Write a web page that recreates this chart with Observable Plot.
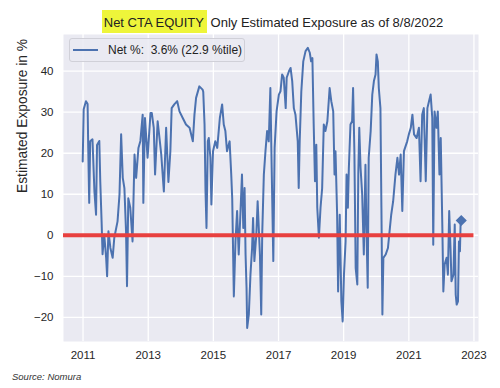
<!DOCTYPE html>
<html>
<head>
<meta charset="utf-8">
<script src="https://cdn.jsdelivr.net/npm/d3@7"></script>
<script src="https://cdn.jsdelivr.net/npm/@observablehq/plot@0.6"></script>
<style>
  html, body { margin: 0; padding: 0; background: #fff; }
  #wrap { position: relative; width: 500px; height: 388px; font-family: "Liberation Sans", Arial, sans-serif; }
  #title { position: absolute; left: 0; width: 545px; top: 15px; text-align: center; font-size: 13px; line-height: 15px; color: #222; white-space: pre; }
  #title .hl { background: #eef53a; padding: 5px 3px 3px 2px; }
  #legend { position: absolute; left: 69px; top: 38px; width: 174px; height: 22px; border: 1px solid #d0d0d8; border-radius: 3px; background: rgba(234,234,242,0.85); }
  #legend .ln { position: absolute; left: 3px; top: 10px; width: 25px; height: 2px; background: #4C72B0; }
  #legend .tx { position: absolute; left: 38px; top: 4px; font-size: 12px; color: #222; white-space: pre; }
  #caption { position: absolute; left: 12px; top: 371px; font-size: 9.5px; font-style: italic; color: #333; }
  #chart { position: absolute; left: 0; top: 0; }
</style>
</head>
<body>
<div id="wrap">
  <div id="chart"></div>
  <div id="title"><span class="hl">Net CTA EQUITY</span> Only Estimated Exposure as of 8/8/2022</div>
  <div id="legend"><div class="ln"></div><div class="tx">Net %:  3.6% (22.9 %tile)</div></div>
  <div id="caption">Source: Nomura</div>
</div>
<script>
// Decimal-year positions of readings and their values (% exposure)
const years = [
  2010.99, 2011.02, 2011.09, 2011.14, 2011.16, 2011.19, 2011.22, 2011.29, 2011.35, 2011.40,
  2011.43, 2011.50, 2011.53, 2011.57, 2011.60, 2011.65, 2011.71, 2011.74, 2011.78, 2011.84,
  2011.91, 2011.96, 2012.06, 2012.12, 2012.17, 2012.22, 2012.27, 2012.32, 2012.35, 2012.39,
  2012.45, 2012.52, 2012.58, 2012.63, 2012.70, 2012.76, 2012.83, 2012.85, 2012.90, 2012.98,
  2013.07, 2013.11, 2013.17, 2013.21, 2013.29, 2013.40, 2013.48, 2013.55, 2013.62, 2013.68,
  2013.72, 2013.80, 2013.89, 2013.96, 2014.06, 2014.16, 2014.27, 2014.37, 2014.42, 2014.47,
  2014.57, 2014.67, 2014.69, 2014.73, 2014.76, 2014.79, 2014.83, 2014.86, 2014.91, 2014.94,
  2014.99, 2015.06, 2015.12, 2015.20, 2015.27, 2015.32, 2015.37, 2015.42, 2015.50, 2015.55,
  2015.58, 2015.61, 2015.63, 2015.68, 2015.73, 2015.78, 2015.83, 2015.88, 2015.92, 2015.96,
  2015.99, 2016.02, 2016.04, 2016.09, 2016.14, 2016.19, 2016.22, 2016.26, 2016.32, 2016.36,
  2016.43, 2016.47, 2016.50, 2016.55, 2016.60, 2016.65, 2016.70, 2016.75, 2016.79, 2016.84,
  2016.88, 2016.94, 2017.01, 2017.06, 2017.11, 2017.16, 2017.22, 2017.25, 2017.32, 2017.37,
  2017.42, 2017.47, 2017.52, 2017.59, 2017.62, 2017.65, 2017.70, 2017.76, 2017.83, 2017.90,
  2017.96, 2018.00, 2018.04, 2018.08, 2018.12, 2018.16, 2018.19, 2018.24, 2018.29, 2018.34,
  2018.39, 2018.44, 2018.50, 2018.57, 2018.62, 2018.68, 2018.72, 2018.75, 2018.80, 2018.83,
  2018.88, 2018.93, 2018.97, 2019.01, 2019.06, 2019.09, 2019.13, 2019.16, 2019.21, 2019.26,
  2019.29, 2019.33, 2019.37, 2019.42, 2019.45, 2019.48, 2019.52, 2019.57, 2019.62, 2019.67,
  2019.70, 2019.74, 2019.77, 2019.83, 2019.88, 2019.93, 2019.98, 2020.01, 2020.05, 2020.08,
  2020.13, 2020.16, 2020.19, 2020.22, 2020.29, 2020.36, 2020.42, 2020.46, 2020.52, 2020.59,
  2020.65, 2020.70, 2020.75, 2020.80, 2020.85, 2020.95, 2021.00, 2021.06, 2021.11, 2021.16,
  2021.24, 2021.31, 2021.36, 2021.41, 2021.46, 2021.52, 2021.57, 2021.62, 2021.67, 2021.72,
  2021.75, 2021.79, 2021.85, 2021.89, 2021.94, 2021.98, 2022.03, 2022.06, 2022.10, 2022.16,
  2022.20, 2022.24, 2022.28, 2022.31, 2022.37, 2022.41, 2022.44, 2022.47, 2022.51, 2022.54,
  2022.57, 2022.59, 2022.61
];
const values = [
  18, 30.7, 32.7, 32, 21.3, 7.9, 22.9, 23.4, 10.7, 5,
  22, 23, 13, 3.4, -4.6, 0.2, -5.5, -10, 1, -3.1,
  -5.5, -0.6, 3.4, 10, 24.6, 14, 11.5, 1, -12.4, 9,
  6.7, -1.5, 19.7, 14, 21.3, 23, 29.4, 7.9, 28.6, 18.9,
  29.8, 29.8, 26.2, 14.8, 27.8, 19.7, 10.7, 26.2, 13, 20.5,
  31, 31.9, 32.7, 30.2, 28.6, 27, 26.2, 22.9, 29.4, 33.5,
  36.3, 35.5, 35, 27, 10.7, 1.8, 22.9, 23.7, 18.9, 7.5,
  20.5, 22.9, 21.3, 28.6, 31.9, 27, 25.4, 20.5, 22.9, 14.8,
  9, -5.5, -14.9, -1.5, 5.9, -4.7, 5, 14.8, 1.8, 11.5,
  -4.7, -12.8, -22.6, -19.3, -9.6, -3.1, 4.2, -6.3, 0.2, 8.3,
  -4.7, -19.3, 0.2, 14.8, 20.5, 25.4, 22.9, 35.9, 16.4, -6.3,
  21.3, 30.2, 34.3, 35.1, 39.2, 38.4, 31, 38.4, 40, 40.8,
  37.6, 31, 29.4, 22.9, 11.5, 22.9, 35.1, 42.4, 44.9, 45.7,
  44.5, 42.4, 43.2, 27, 13.2, 22.1, 6.7, -0.6, 6.7, 11.5,
  27, 25.4, 27.8, 35.9, 32.7, 30.2, 14.8, 20.5, 5, -13.7,
  5, -16.1, -21, -9.6, -1.5, 14.8, 6.7, 16.4, 27, 27.8,
  35.9, 20.5, -8, -12, 14.8, 26.2, 16.4, 9.9, -4.7, 17.2,
  1.8, -12.8, 18.9, 25.4, 34.3, 37.6, 39.2, 44.1, 42.4, 35.9,
  31, 6.7, -19.3, -5.5, -4.7, -3.1, 1.8, 5, 8.3, 14.8,
  18.9, 14.8, 19.7, 5.9, 20.5, 22.9, 24.6, 26.2, 29.4, 24.6,
  23.7, 26.2, 13.2, 29.4, 31, 13.2, 31, 32.7, 34.3, 28.6,
  -2.3, 30.2, 26.2, 30.2, 14.8, 23.7, 1.8, -13.7, -7.1, -5.5,
  -9.6, 5.9, -3.1, -11.2, -9.6, 2.6, -14.5, -16.9, -16.1, -1.5,
  -3.9, 3, 3.6
];
const xTickYears = [2011, 2013, 2015, 2017, 2019, 2021, 2023];
const yTicks = [-20, -10, 0, 10, 20, 30, 40];
const xDomainYears = [2010.40, 2023.14];
const yDomain = [-25.9, 48.95];
const zeroLineYears = [2010.40, 2023.0];
const yLabel = "Estimated Exposure in %";

function decToDate(y) {
  const Y = Math.floor(y);
  const s = Date.UTC(Y, 0, 1), e = Date.UTC(Y + 1, 0, 1);
  return new Date(s + (y - Y) * (e - s));
}
const data = years.map((y, i) => ({date: decToDate(y), value: values[i]}));
const last = [data[data.length - 1]];
const xTicks = xTickYears.map(y => decToDate(y));

const chart = Plot.plot({
  width: 500,
  height: 388,
  marginTop: 34,
  marginBottom: 47,
  marginLeft: 63,
  marginRight: 22,
  style: {fontFamily: "Liberation Sans, Arial, sans-serif", fontSize: "11.5px", color: "#262626", background: "transparent"},
  x: {type: "utc", domain: xDomainYears.map(decToDate)},
  y: {domain: yDomain},
  marks: [
    Plot.frame({fill: "#EAEAF2", stroke: null}),
    Plot.gridX(xTicks, {stroke: "#fff", strokeOpacity: 1, strokeWidth: 1.3}),
    Plot.gridY(yTicks, {stroke: "#fff", strokeOpacity: 1, strokeWidth: 1.3}),
    Plot.lineY(data, {x: "date", y: "value", stroke: "#4C72B0", strokeWidth: 2}),
    Plot.ruleY([0], {x1: decToDate(zeroLineYears[0]), x2: decToDate(zeroLineYears[1]), stroke: "#E8403F", strokeWidth: 4}),
    Plot.dot(last, {x: "date", y: "value", symbol: "square", r: 3.6, rotate: 45, fill: "#4C72B0", stroke: "#4C72B0"}),
    Plot.axisX({ticks: xTicks, tickFormat: d3.utcFormat("%Y"), tickSize: 0, tickPadding: 9, label: null}),
    Plot.axisY({ticks: yTicks, tickSize: 0, tickPadding: 10, label: null}),
    Plot.text([yLabel], {text: d => d, frameAnchor: "left", rotate: -90, dx: -41.3, dy: 5, fontSize: 13.8, fill: "#262626"})
  ]
});
document.getElementById("chart").appendChild(chart);
</script>
</body>
</html>
